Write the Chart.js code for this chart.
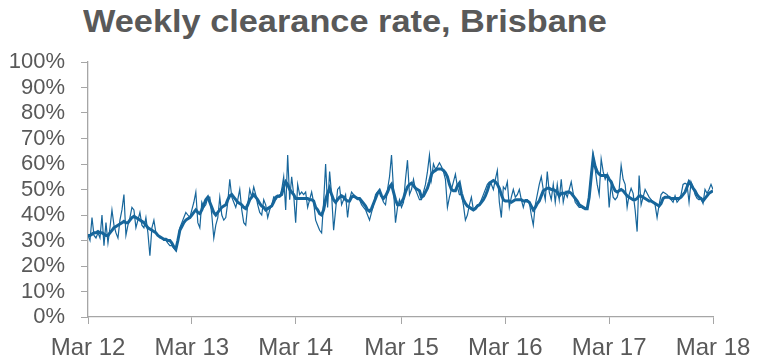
<!DOCTYPE html>
<html>
<head>
<meta charset="utf-8">
<script src="https://cdn.jsdelivr.net/npm/chart.js@4"></script>
<style>
  html, body { margin: 0; padding: 0; background: #fff; }
  #wrap { position: relative; width: 767px; height: 363px; }
  #title {
    position: absolute; left: 83px; top: 4px;
    font-family: "Liberation Sans", Arial, sans-serif;
    font-weight: bold; font-size: 30.5px; color: #595959;
    white-space: nowrap;
    transform: scaleX(1.125); transform-origin: left top;
  }
  canvas { position: absolute; left: 0; top: 0; }
</style>
</head>
<body>
<div id="wrap">
  <div id="title">Weekly clearance rate, Brisbane</div>
  <canvas id="chart" width="767" height="363"></canvas>
</div>
<script>
// x axis ticks (week index from Mar 2012)
const tickWeeks = [0, 52, 104, 157, 209, 261, 313];
const tickLabels = ["Mar 12", "Mar 13", "Mar 14", "Mar 15", "Mar 16", "Mar 17", "Mar 18"];

// y axis
const yTicks = [0, 10, 20, 30, 40, 50, 60, 70, 80, 90, 100];

// weekly clearance rate (%), one value per week
const weekly = [
  32, 30, 39, 32, 31, 33, 31, 40, 28, 37,
  29, 35, 42, 36, 33, 31, 38, 42, 48, 32,
  36, 39, 43, 42, 35, 38, 41, 36, 35, 39,
  33, 24, 35, 38, 33, 32, 31, 31, 30, 30,
  29, 28, 28, 27, 26, 30, 35, 37, 39, 41,
  40, 39, 42, 45, 49, 37, 35, 45, 43, 44,
  47, 47, 40, 31, 36, 39, 47, 40, 38, 39,
  45, 54, 47, 45, 43, 46, 50, 42, 37, 36,
  44, 50, 47, 51, 48, 44, 41, 40, 46, 44,
  39, 42, 44, 47, 46, 47, 47, 50, 55, 42,
  63.5, 46, 55, 48, 37, 52, 48, 49, 48, 49,
  43, 46, 49, 45, 38, 36, 34, 33, 45, 60,
  43, 57, 48, 34, 42, 50, 51, 44, 46, 48,
  39, 46, 49, 48, 47, 46, 46, 44, 43, 42,
  40, 38, 41, 44, 48, 49, 50, 47, 45, 44,
  50, 55, 63.5, 50, 37, 43, 46, 43, 45, 54,
  61.5, 48, 50, 54, 50, 48, 46, 46, 49, 52,
  57, 63.5, 54, 60, 58, 59, 60.5, 59, 57, 54,
  43, 47, 50, 53, 56, 51, 48, 48, 44, 38,
  40, 44, 47, 42, 43, 44, 44, 46, 48, 50,
  52, 53, 52, 50, 54, 57.5, 45, 39, 51, 50,
  53, 43, 47, 50, 47, 48, 50, 46, 43, 46,
  46, 45, 40, 36, 44, 48, 52, 55, 50, 46,
  57, 49, 46, 52, 45, 52, 46, 54, 45, 49,
  47, 50, 53, 48.5, 45, 44, 43, 43, 42.5, 42.5,
  42.5, 48, 56, 63.5, 58, 52, 48, 62, 57, 54,
  56, 43, 52, 47, 46, 47, 50, 59.5, 54, 52,
  43, 48, 50.5, 48.5, 42, 33.5, 55.5, 44, 47, 50,
  48.5, 47, 46, 45, 44, 39, 44, 48, 49, 48.5,
  48, 47, 46, 45, 47.5, 45, 46, 48, 52, 52.5,
  52, 45, 53, 51, 48, 46.5, 46, 46.5, 44.5, 50,
  48.5, 50, 52, 50
];

// smoothed (rolling average) clearance rate (%)
const smoothed = [
  32, 32, 32.5, 33, 33, 33.5, 33, 33, 32.5, 32,
  32, 33, 34, 35, 35.5, 36, 36.5, 37, 37.5, 37,
  37, 38, 39, 39.5, 39, 38.5, 38, 37.5, 37, 36,
  35, 34.5, 34, 33.5, 33, 32, 31.5, 31, 30.5, 30.5,
  30, 30, 29, 27.5, 26.5, 30, 34, 35.5, 37, 38,
  38.5, 39, 40, 41, 42, 41, 40.5, 42, 44, 46,
  47, 45, 43, 41, 40, 41, 42, 43, 43.5, 44,
  46, 47.5, 48, 47, 46, 45, 44.5, 44, 43, 42.5,
  44, 46, 47, 48, 47, 46, 44.5, 43.5, 43, 42,
  42.5, 43, 43.5, 45, 47, 47.5, 47.5, 48, 51, 53,
  52, 50, 49, 48, 46.5, 46.5, 46.5, 46.5, 46.5, 46.5,
  46.5, 46, 46, 45.5, 43, 42, 40.5, 40, 42, 46,
  48.5, 50.5, 48, 46, 45, 46, 47, 47.5, 47, 46,
  45.5, 45.5, 47, 47.5, 47, 46.5, 46.5, 45.5, 44.5, 43.5,
  42, 41.5, 42.5, 44.5, 46.5, 48.5, 49.5, 47.5, 46.5, 47.5,
  49, 51, 52, 49, 46, 44, 44, 45, 46.5, 49,
  51, 52, 52.5, 51.5, 50.5, 50, 49.5, 47, 47.5, 49,
  50.5, 53, 56, 57, 57.5, 58, 58, 58, 57.5, 56.5,
  55, 52, 50, 49.5, 49.5, 51.5, 52.5, 48.5, 46, 44.5,
  43.5, 43, 42.5, 42, 42.5, 43.5, 44, 45, 46, 47.5,
  49.5, 52, 53, 53.5, 53, 52, 50.5, 48, 46, 45.5,
  45.5, 45.5, 45, 45.5, 46, 46, 46, 46, 45.5, 45.5,
  45.5, 45, 43.5, 42, 43, 44.5, 45.5, 47.5, 49.5, 50,
  50.5, 50.5, 50, 50, 49.5, 49, 47.5, 48.5, 48.5, 48.5,
  49, 49, 48.5, 47.5, 46.5, 45.5, 44, 43.5, 43, 42.5,
  42.5, 47, 55, 62.5, 59, 57, 56, 55.5, 55.5, 55.5,
  55.5, 54, 53, 51, 49.5, 49, 49.5, 50, 49.5, 48.5,
  47.5, 47, 46.5, 46, 46, 46.5, 47.5, 47.5, 47, 46.5,
  46, 45.5, 45.5, 45, 44.5, 44, 43.5, 44.5, 46.5, 47,
  47, 47, 46.5, 46.5, 46.5, 46.5, 46.5, 47, 48, 49,
  51, 53, 52, 50.5, 49.5, 48, 47, 46.5, 45.5, 46.5,
  47.5, 48.5, 49, 49.5
];

const lineColor = "#17669b";
const axisColor = "#a6a6a6";
const textColor = "#595959";
const fontFamily = "'Liberation Sans', Arial, sans-serif";

const toPoints = arr => arr.map((v, i) => ({ x: i, y: v }));

new Chart(document.getElementById("chart"), {
  type: "line",
  data: {
    datasets: [
      {
        label: "Weekly",
        data: toPoints(weekly),
        borderColor: lineColor,
        borderWidth: 1.2,
        pointRadius: 0,
        tension: 0
      },
      {
        label: "Smoothed",
        data: toPoints(smoothed),
        borderColor: lineColor,
        borderWidth: 3,
        pointRadius: 0,
        tension: 0
      }
    ]
  },
  options: {
    responsive: false,
    animation: false,
    layout: { padding: { top: 62, right: 54, left: 0, bottom: 0 } },
    plugins: { legend: { display: false }, tooltip: { enabled: false } },
    scales: {
      x: {
        type: "linear",
        min: 0,
        max: 313,
        afterBuildTicks: scale => { scale.ticks = tickWeeks.map(v => ({ value: v })); },
        afterFit: scale => { scale.height = 363 - 317; },
        ticks: {
          color: textColor,
          font: { family: fontFamily, size: 24 },
          padding: 10,
          maxRotation: 0,
          autoSkip: false,
          callback: (v, i) => tickLabels[i]
        },
        grid: { drawOnChartArea: false, drawTicks: true, tickLength: 7, color: axisColor },
        border: { display: true, color: axisColor, width: 1.3 }
      },
      y: {
        min: 0,
        max: 100,
        afterBuildTicks: scale => { scale.ticks = yTicks.map(v => ({ value: v })); },
        afterFit: scale => { scale.width = 88; },
        ticks: {
          color: textColor,
          font: { family: fontFamily, size: 22 },
          padding: 16,
          autoSkip: false,
          callback: v => v + "%"
        },
        grid: { drawOnChartArea: false, drawTicks: true, tickLength: 7, color: axisColor },
        border: { display: true, color: axisColor, width: 1.3 }
      }
    }
  }
});
</script>
</body>
</html>
